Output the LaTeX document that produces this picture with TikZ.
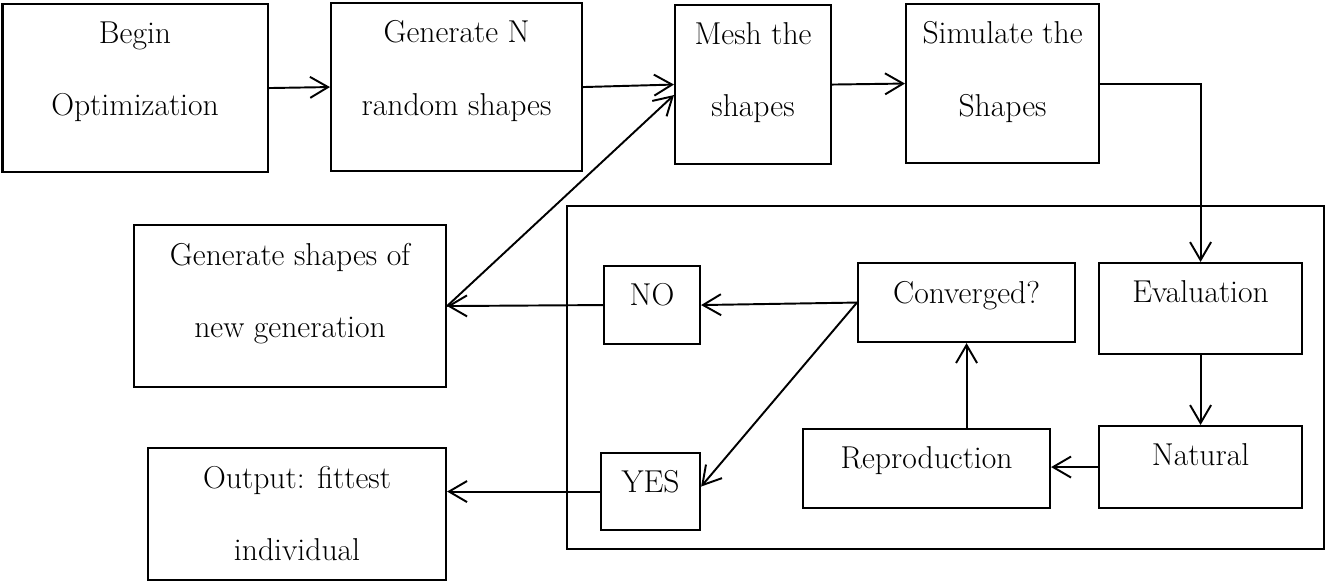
\documentclass[tikz,border=0pt]{standalone}
\usetikzlibrary{arrows.meta}
\begin{document}
\begin{tikzpicture}[line cap=round,
% Styles
box/.style={draw,line width=1.2pt,inner sep=0pt,anchor=north west},
box text/.style={inner sep=0pt,anchor=north,align=center,font=\fontsize{18}{41}\selectfont},
flow arrow/.style={line width=1.1pt,-{Straight Barb[length=3.6mm,width=4.2mm,line width=1.1pt]}}]
% Local definitions
\def\textdrop{-0.37cm}
\useasboundingbox (0,0) rectangle (26.5,-11.64);
% the loop frame
\node[box,minimum width=15.14cm,minimum height=6.86cm] (loop) at (11.32,-4.10) {};
% Boxes
\foreach \name/\x/\y/\w/\h/\lbl in {
    begin/0.03/-0.06/5.30/3.36/{Begin\\Optimization},
    gen/6.60/-0.04/5.02/3.36/{Generate N\\random shapes},
    mesh/13.48/-0.08/3.12/3.18/{Mesh the\\shapes},
    sim/18.10/-0.06/3.86/3.18/{Simulate the\\Shapes},
    newgen/2.66/-4.48/6.24/3.24/{Generate shapes of\\new generation},
    out/2.94/-8.94/5.96/2.64/{Output: fittest\\individual},
    no/12.06/-5.30/1.92/1.56/NO,
    yes/12.00/-9.04/1.98/1.54/YES,
    conv/17.14/-5.24/4.34/1.58/Converged?,
    eval/21.96/-5.24/4.06/1.82/Evaluation,
    repro/16.04/-8.56/4.94/1.58/Reproduction,
    nat/21.96/-8.50/4.06/1.64/Natural}
{
    \node[box,minimum width=\w cm,minimum height=\h cm] (\name) at (\x,\y) {};
    \node[box text] (\name-t) at ([yshift=\textdrop]\name.north) {\lbl};
}
% Top row
\draw[flow arrow] (begin.east) -- (gen.west);
\draw[flow arrow] (gen.east) -- (mesh.west);
\draw[flow arrow] (mesh.east) -- (sim.west);
\draw[flow arrow] (sim.east) -| (eval.north);
% Inside the loop
\draw[flow arrow] (eval.south) -- (nat.north);
\draw[flow arrow] (nat.west) -- (nat.west -| repro.east);
\draw[flow arrow] (repro.north -| conv.south) -- (conv.south);
\draw[flow arrow] (conv.west) -- (no.east);
\draw[flow arrow] (conv.west) -- ([yshift=0.1cm]yes.east);
% Out of the loop
\draw[flow arrow] (no.west) -- (newgen.east);
\draw[flow arrow] (newgen.east) -- ([yshift=-0.21cm]mesh.west);
\draw[flow arrow] (yes.west) -- (yes.west -| out.east);
\end{tikzpicture}
\end{document}
